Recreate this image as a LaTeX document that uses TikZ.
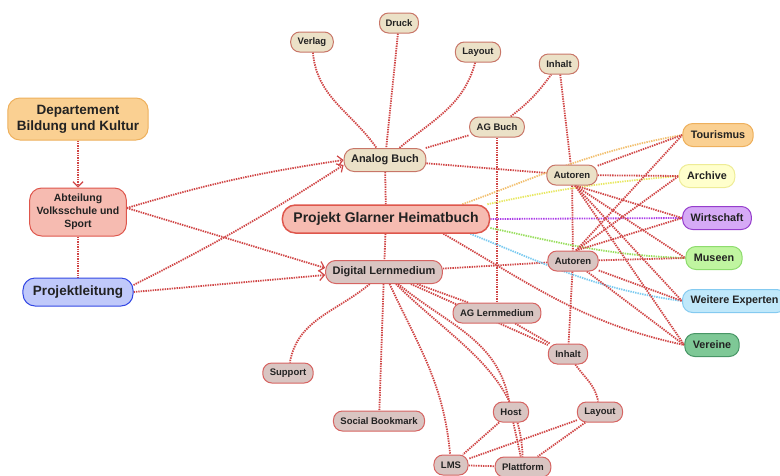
\documentclass[tikz,border=0pt]{standalone}
\usepackage{fontspec}
\setmainfont{Liberation Sans}
\usetikzlibrary{arrows.meta}
\usetikzlibrary{backgrounds}

\definecolor{linkred}{RGB}{208,70,70}
\definecolor{txt}{RGB}{34,34,34}
\definecolor{beige}{RGB}{235,225,199}
\definecolor{beigeline}{RGB}{200,118,104}
\definecolor{grau}{RGB}{217,197,194}
\definecolor{grauline}{RGB}{214,100,98}
\definecolor{lachs}{RGB}{246,187,177}
\definecolor{lachsline}{RGB}{222,86,76}
\definecolor{orangefill}{RGB}{250,208,146}
\definecolor{orangeline}{RGB}{238,176,92}
\definecolor{blaufill}{RGB}{192,201,250}
\definecolor{blauline}{RGB}{52,72,228}
\definecolor{gelbfill}{RGB}{255,255,204}
\definecolor{gelbline}{RGB}{238,236,150}
\definecolor{lilafill}{RGB}{214,170,246}
\definecolor{lilaline}{RGB}{150,62,204}
\definecolor{gruenfill}{RGB}{192,245,160}
\definecolor{gruenline}{RGB}{142,220,110}
\definecolor{hblaufill}{RGB}{192,232,250}
\definecolor{hblauline}{RGB}{132,202,240}
\definecolor{dgruenfill}{RGB}{126,200,150}
\definecolor{dgruenline}{RGB}{72,150,102}
\definecolor{orangelink}{RGB}{242,192,112}
\definecolor{gelblink}{RGB}{232,232,100}
\definecolor{lilalink}{RGB}{172,62,232}
\definecolor{gruenlink}{RGB}{152,222,92}
\definecolor{blaulink}{RGB}{122,202,240}

\begin{document}
\begin{tikzpicture}[x=1pt,y=-1pt,
    knoten/.style={rounded corners=9pt,draw,line width=1pt,inner xsep=7pt,inner ysep=0pt,minimum height=20pt,text=txt,font=\bfseries\fontsize{9.5}{11}\selectfont},
    buch/.style={knoten,fill=beige,draw=beigeline},
    lern/.style={knoten,fill=grau,draw=grauline},
    gross/.style={minimum height=23pt,rounded corners=10pt,font=\bfseries\fontsize{11}{13}\selectfont},
    partner/.style={knoten,minimum height=23pt,rounded corners=10pt,inner xsep=8pt,font=\bfseries\fontsize{10.8}{13}\selectfont},
    link/.style={draw=linkred,line width=1.8pt,dash pattern=on 1.4pt off 1pt},
    farbe/.style={draw=#1,line width=1.8pt,dash pattern=on 1.4pt off 1pt},
    pfeil/.style={link,-{Straight Barb[length=5pt,width=10pt,line width=1.2pt]}}]
    \useasboundingbox (0,0) rectangle (780,475);
    % Leitung
    \node[knoten,fill=orangefill,draw=orangeline,rounded corners=12pt,minimum height=42pt,inner xsep=9pt,align=center,font=\bfseries\fontsize{13.5}{16}\selectfont] (dep) at (78,119) {Departement\\Bildung und Kultur};
    \node[knoten,fill=lachs,draw=lachsline,rounded corners=12pt,minimum height=48pt,align=center,font=\bfseries\fontsize{10.5}{13}\selectfont] (abt) at (78,212) {Abteilung\\Volksschule und\\Sport};
    \node[knoten,fill=blaufill,draw=blauline,rounded corners=12pt,minimum height=28pt,inner xsep=10pt,font=\bfseries\fontsize{13.5}{16}\selectfont] (pl) at (78,292) {Projektleitung};
    \node[knoten,fill=lachs,draw=lachsline,line width=1.5pt,rounded corners=13pt,minimum height=28pt,inner xsep=11pt,font=\bfseries\fontsize{14}{16}\selectfont] (projekt) at (386,219) {Projekt Glarner Heimatbuch};
    % Analog Buch
    \node[buch,gross] (analog) at (385,160) {Analog Buch};
    \node[buch] (verlag) at (312,42) {Verlag};
    \node[buch,inner xsep=6pt] (druck) at (399,23) {Druck};
    \node[buch] (layoutA) at (478,52) {Layout};
    \node[buch] (inhaltA) at (559,64) {Inhalt};
    \node[buch] (agbuch) at (497,127) {AG Buch};
    \node[buch] (autorenA) at (572,175) {Autoren};
    % Digital Lernmedium
    \node[lern,gross] (digital) at (384,272) {Digital Lernmedium};
    \node[lern] (autorenB) at (573,261) {Autoren};
    \node[lern] (aglern) at (497,313) {AG Lernmedium};
    \node[lern] (inhaltB) at (568,354) {Inhalt};
    \node[lern] (support) at (288,373) {Support};
    \node[lern] (social) at (379,421) {Social Bookmark};
    \node[lern] (host) at (511,412) {Host};
    \node[lern] (layoutB) at (600,412) {Layout};
    \node[lern] (lms) at (451,465) {LMS};
    \node[lern] (plattform) at (523,467) {Plattform};
    % Partner
    \node[partner,fill=orangefill,draw=orangeline] (tourismus) at (718,135) {Tourismus};
    \node[partner,fill=gelbfill,draw=gelbline] (archive) at (707,176) {Archive};
    \node[partner,fill=lilafill,draw=lilaline] (wirtschaft) at (717,218) {Wirtschaft};
    \node[partner,fill=gruenfill,draw=gruenline] (museen) at (714,258) {Museen};
    \node[partner,fill=hblaufill,draw=hblauline,anchor=west] (weitere) at (682,301) {Weitere Experten};
    \node[partner,fill=dgruenfill,draw=dgruenline] (vereine) at (712,345) {Vereine};

    \begin{scope}[on background layer]
    \draw (dep) edge[pfeil] (abt);
    \draw[link] (abt) edge (pl);
    \draw ([yshift=4pt]abt.east) edge[pfeil,bend left=4] (analog.west) edge[pfeil] ([yshift=4pt]digital.west);
    \draw ([yshift=7pt]pl.east) edge[pfeil,bend right=3] ([yshift=-5pt]analog.west);
    \draw (pl.east) edge[pfeil] ([yshift=-3pt]digital.west);

    \draw[link] (verlag) edge[out=-85,in=125] (analog);
    \draw[link] (druck) edge (analog);
    \draw[link] (layoutA) edge[out=-105,in=40] (analog);
    \draw[link] (analog) edge (agbuch) edge (autorenA) edge (projekt);
    \draw[link] (agbuch) edge[bend right=8] (inhaltA) edge (aglern);
    \draw[link] (inhaltA) edge (autorenA);
    \draw[link] (autorenA) edge (autorenB);
    \draw[link] (autorenB) edge (inhaltB);

    \draw[link] (projekt) edge (digital);
    \draw[link] (digital) edge (autorenB) edge (aglern) edge (inhaltB) edge (social);
    \draw[link] (digital) edge[out=-140,in=80] (support);
    \draw[link] (digital) edge[out=-65,in=95] (lms);
    \draw[link] (digital) edge[out=-40,in=100] (host);
    \draw[link] (digital) edge[out=-45,in=92] (plattform);
    \draw[link] (aglern) edge (inhaltB);
    \draw[link] (inhaltB) edge[out=-55,in=100] (layoutB);
    \draw[link] (host) edge (lms) edge (plattform);
    \draw[link] (layoutB) edge (lms) edge (plattform);
    \draw[link] (lms) edge (plattform);

    \draw[farbe=orangelink] ([xshift=-28pt]projekt.north east) to[out=20,in=190] (tourismus.west);
    \draw[farbe=gelblink] ([xshift=-3pt]projekt.north east) to[out=12,in=185] (archive.west);
    \draw[farbe=lilalink] (projekt.east) -- (wirtschaft.west);
    \draw[farbe=gruenlink] ([yshift=-9pt]projekt.east) to[out=-12,in=178] (museen.west);
    \draw[farbe=blaulink] ([xshift=-20pt]projekt.south east) to[out=-22,in=172] (weitere.west);
    \draw[link] ([xshift=-47pt]projekt.south east) to[out=-30,in=168] (vereine.west);

    \draw[link] (autorenA) edge (tourismus.west) edge (archive.west);
    \draw[link] ([xshift=3pt]autorenA.south) edge (wirtschaft.west) edge (museen.west) edge (weitere.west) edge (vereine.west);
    \draw[link] ([xshift=3pt]autorenB.north) edge (tourismus.west) edge (archive.west) edge (wirtschaft.west);
    \draw[link] (autorenB) edge (museen.west) edge (weitere.west) edge (vereine.west);
    \end{scope}
\end{tikzpicture}
\end{document}
